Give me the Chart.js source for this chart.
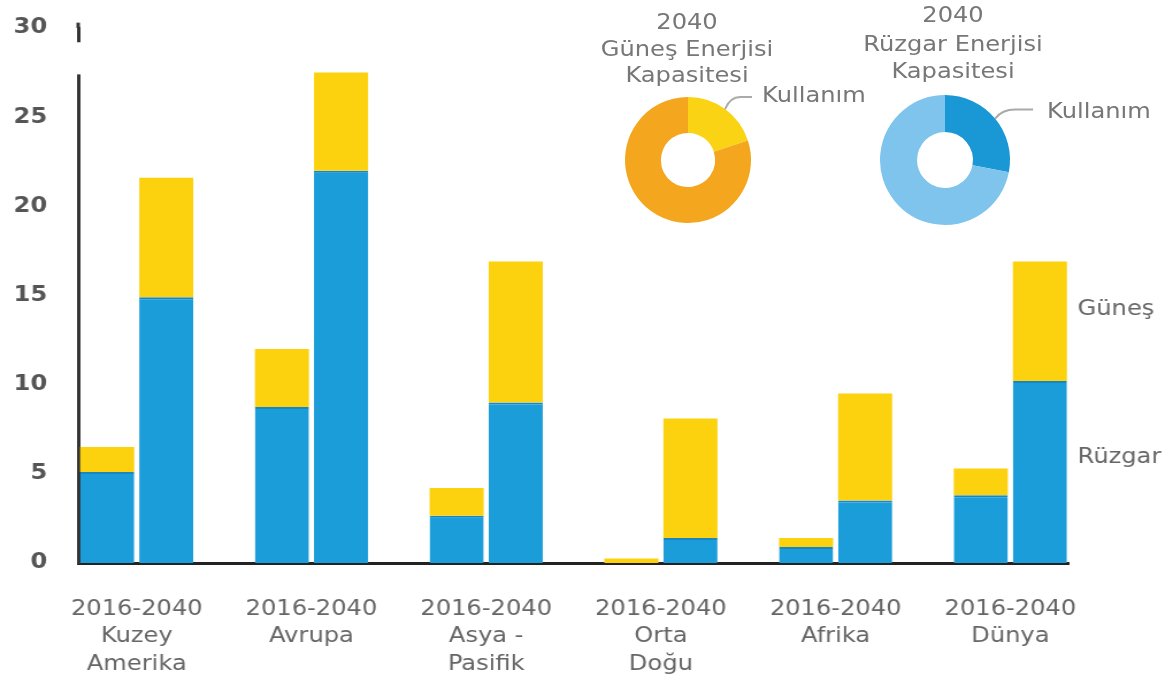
<!DOCTYPE html>
<html>
<head>
<meta charset="utf-8">
<script src="https://cdn.jsdelivr.net/npm/chart.js"></script>
<style>
  body { margin: 0; background: #fff; }
  #wrap { position: relative; width: 1172px; height: 675px; overflow: hidden; }
  #bars { position: absolute; left: 0; top: 0; transform: scaleX(1.15); transform-origin: 0 0; }
  #solar { position: absolute; left: 590px; top: 0; }
  #wind { position: absolute; left: 840px; top: 0; }
</style>
</head>
<body>
<div id="wrap">
  <canvas id="bars" width="1019" height="675"></canvas>
  <canvas id="solar" width="300" height="235"></canvas>
  <canvas id="wind" width="332" height="235"></canvas>
</div>
<script>
// capacity by region, 2016 vs 2040
const period = '2016-2040';
const regions = [['Kuzey', 'Amerika'], ['Avrupa'], ['Asya -', 'Pasifik'], ['Orta', 'Doğu'], ['Afrika'], ['Dünya']];
const wind2016 = [5.1, 8.75, 2.65, 0, 0.9, 3.8];
const solar2016 = [1.4, 3.25, 1.55, 0.25, 0.5, 1.5];
const wind2040 = [14.9, 22.0, 9.0, 1.4, 3.5, 10.2];
const solar2040 = [6.7, 5.5, 7.9, 6.7, 6.0, 6.7];
const yTicks = [0, 5, 10, 15, 20, 25, 30];
const seriesNames = ['Güneş', 'Rüzgar'];

// 2040 usage share of capacity
const solarShare = [20, 80];
const windShare = [28, 72];
const solarTitle = ['2040', 'Güneş Enerjisi', 'Kapasitesi'];
const windTitle = ['2040', 'Rüzgar Enerjisi', 'Kapasitesi'];
const usageLabel = 'Kullanım';

const BLUE = '#1b9dd9', YELLOW = '#fcd20f';
const STRETCH = 1.15;
const FONT = 'DejaVu Sans';

Chart.defaults.font.family = FONT;
Chart.defaults.animation = false;

const pts = arr => arr.map((v, i) => ({ x: i, y: v }));
const windStyle = { backgroundColor: BLUE, borderColor: '#1786c2', borderWidth: { top: 2, left: 0, right: 0, bottom: 0 }, borderSkipped: 'bottom' };

// axis break near the top + series names next to the last bar
const barExtras = {
  id: 'barExtras',
  afterDraw(chart) {
    const { ctx, chartArea, scales: { y } } = chart;
    ctx.save();
    ctx.fillStyle = '#fff';
    const gTop = y.getPixelForValue(29.2), gBot = y.getPixelForValue(27.4);
    ctx.fillRect(chartArea.left - 4, gTop, 8, gBot - gTop);
    ctx.strokeStyle = '#333';
    ctx.lineWidth = 3;
    ctx.beginPath();
    ctx.moveTo(chartArea.left, y.getPixelForValue(30.3));
    ctx.lineTo(chartArea.left, chartArea.top);
    ctx.stroke();
    ctx.fillStyle = '#666';
    ctx.font = '21px "' + FONT + '"';
    ctx.textBaseline = 'middle';
    ctx.textAlign = 'left';
    ctx.fillText(seriesNames[0], chartArea.right + 8, y.getPixelForValue(14.2));
    ctx.fillText(seriesNames[1], chartArea.right + 8, y.getPixelForValue(5.9));
    ctx.restore();
  }
};

new Chart(document.getElementById('bars'), {
  type: 'bar',
  data: {
    datasets: [
      { label: 'Rüzgar 2016', data: pts(wind2016), ...windStyle, stack: 'a' },
      { label: 'Güneş 2016', data: pts(solar2016), backgroundColor: YELLOW, borderWidth: 0, stack: 'a' },
      { label: 'Rüzgar 2040', data: pts(wind2040), ...windStyle, stack: 'b' },
      { label: 'Güneş 2040', data: pts(solar2040), backgroundColor: YELLOW, borderWidth: 0, stack: 'b' }
    ]
  },
  options: {
    responsive: false,
    events: [],
    categoryPercentage: 0.676,
    barPercentage: 0.916,
    layout: { padding: { top: 28, right: 90, left: 0, bottom: 0 } },
    plugins: { legend: { display: false }, tooltip: { enabled: false } },
    scales: {
      x: {
        type: 'linear',
        bounds: 'data',
        offset: false,
        min: -0.335,
        max: 5.332,
        z: 1,
        grid: { display: false, drawTicks: false, offset: false },
        border: { color: '#222', width: 3 },
        afterBuildTicks(s) { s.ticks = regions.map((r, i) => ({ value: i })); },
        afterFit(s) { s.height = 112; },
        ticks: {
          autoSkip: false,
          maxRotation: 0,
          padding: 33,
          color: '#666',
          font: { size: 21, lineHeight: 1.3 },
          callback: v => regions[v] ? [period, ...regions[v]] : ''
        }
      },
      y: {
        stacked: true,
        min: yTicks[0],
        max: yTicks[yTicks.length - 1],
        grid: { display: false, drawTicks: false },
        border: { color: '#333', width: 3 },
        afterFit(s) { s.width = 68; s.paddingTop = 0; s.paddingBottom = 0; },
        afterBuildTicks(s) { s.ticks = yTicks.map(v => ({ value: v })); },
        ticks: {
          padding: 27,
          color: '#555',
          font: { size: 21, weight: 'bold' }
        }
      }
    }
  },
  plugins: [barExtras]
});

function stretchedText(ctx, text, x, y, align) {
  ctx.save();
  ctx.translate(x, y);
  ctx.scale(STRETCH, 1);
  ctx.textAlign = align;
  ctx.fillText(text, 0, 0);
  ctx.restore();
}

// title above the ring and a leader line from the usage slice to its label
const donutNotes = {
  id: 'donutNotes',
  afterDraw(chart, args, o) {
    const { ctx } = chart;
    const arc = chart.getDatasetMeta(0).data[0];
    const mid = (arc.startAngle + arc.endAngle) / 2;
    const r = arc.outerRadius;
    const x0 = arc.x + Math.cos(mid) * r, y0 = arc.y + Math.sin(mid) * r;
    const ex = x0 + o.run, ey = y0 + o.rise;
    ctx.save();
    ctx.strokeStyle = '#aaa';
    ctx.lineWidth = 2;
    ctx.beginPath();
    ctx.moveTo(x0, y0);
    ctx.quadraticCurveTo(x0 + o.run * 0.35, ey, ex, ey);
    ctx.lineTo(ex + o.tail, ey);
    ctx.stroke();
    ctx.fillStyle = '#777';
    ctx.font = '21px "' + FONT + '"';
    ctx.textBaseline = 'middle';
    stretchedText(ctx, usageLabel, ex + o.tail + o.gap, ey + o.textDy, 'left');
    o.title.forEach((line, i) => stretchedText(ctx, line, arc.x + o.titleDx, o.titleY[i], 'center'));
    ctx.restore();
  }
};

function donut(id, values, colors, padding, notes) {
  new Chart(document.getElementById(id), {
    type: 'doughnut',
    data: { datasets: [{ data: values, backgroundColor: colors, borderWidth: 0 }] },
    options: {
      responsive: false,
      events: [],
      cutout: '43%',
      layout: { padding },
      plugins: { legend: { display: false }, tooltip: { enabled: false }, donutNotes: notes }
    },
    plugins: [donutNotes]
  });
}

donut('solar', solarShare, ['#fbd315', '#f3a61e'],
  { left: 35, right: 139, top: 97, bottom: 12 },
  { run: 15, rise: -12, tail: 12, gap: 10, textDy: 0, title: solarTitle, titleDx: -1, titleY: [24, 51, 77] });

donut('wind', windShare, ['#1a98d5', '#7ec4ec'],
  { left: 40, right: 162, top: 95, bottom: 10 },
  { run: 20, rise: -9, tail: 18, gap: 14, textDy: 3, title: windTitle, titleDx: 8, titleY: [17, 46, 73] });
</script>
</body>
</html>
